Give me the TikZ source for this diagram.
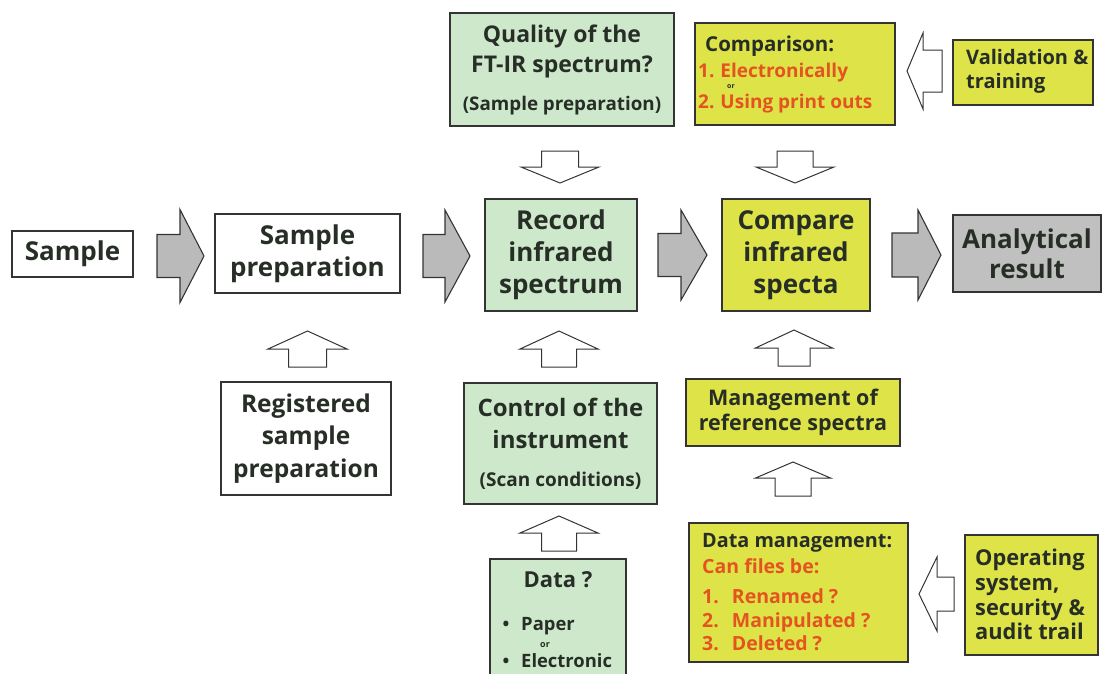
\documentclass[tikz,border=0pt]{standalone}
\usepackage{fontspec}
\setmainfont{Open Sans}
\definecolor{greenf}{RGB}{206,232,204}
\definecolor{yellowf}{RGB}{222,227,72}
\definecolor{grayf}{RGB}{192,192,192}
\definecolor{arrowgray}{RGB}{186,186,186}
\definecolor{linec}{RGB}{52,52,52}
\definecolor{txtc}{RGB}{38,46,38}
\definecolor{redc}{RGB}{228,84,32}
\newcommand\fs[2]{\fontsize{#1}{#2}\selectfont}
% right/left-pointing block arrow: style, x-tail, x-headbase, x-tip, y-centre, shaft half, head half
\newcommand\blockR[7]{\draw[#1] (#2,#5-#6) -- (#3,#5-#6) -- (#3,#5-#7) -- (#4,#5) -- (#3,#5+#7) -- (#3,#5+#6) -- (#2,#5+#6) -- cycle;}
% up/down: style, x-centre, y-tail, y-headbase, y-tip, shaft half, head half
\newcommand\blockV[7]{\draw[#1] (#2-#6,#3) -- (#2-#6,#4) -- (#2-#7,#4) -- (#2,#5) -- (#2+#7,#4) -- (#2+#6,#4) -- (#2+#6,#3) -- cycle;}
\tikzset{
  box/.style={draw=linec, line width=1.3pt, inner sep=0pt, align=center, text=txtc},
  wbox/.style={box, fill=white},
  gbox/.style={box, fill=greenf},
  ybox/.style={box, fill=yellowf},
  grbox/.style={box, fill=grayf},
  garrow/.style={draw=linec, line width=1.1pt, fill=arrowgray, line join=miter},
  harrow/.style={draw=linec, line width=1pt, fill=white, line join=miter},
  txt/.style={text=txtc, inner sep=0pt},
  rtxt/.style={text=redc, inner sep=0pt},
}
\begin{document}
\begin{tikzpicture}[x=1pt, y=-1pt]
\useasboundingbox (0,0) rectangle (1103,673);
\clip (0,0) rectangle (1103,673);
% main row
\node[wbox, minimum width=121pt, minimum height=46pt, font=\bfseries\fs{26}{32}] (sample) at (72.5,254) {Sample};
\node[wbox, minimum width=185pt, minimum height=79pt, font=\bfseries\fs{26}{32}] (prep) at (307.5,253.5) {Sample\\preparation};
\node[gbox, minimum width=152pt, minimum height=112pt, font=\bfseries\fs{26}{32}] (rec) at (561,255) {Record\\infrared\\spectrum};
\node[ybox, minimum width=148pt, minimum height=112pt, font=\bfseries\fs{26}{32}] (cmp) at (796,255) {Compare\\infrared\\specta};
\node[grbox, minimum width=148pt, minimum height=77pt, font=\bfseries\fs{26}{30}] (res) at (1027,253.5) {Analytical\\result};
% top row
\node[gbox, minimum width=224pt, minimum height=113pt] (qual) at (562,69.5) {};
\node[txt, anchor=base, font=\bfseries\fs{23}{28}] (q1) at (562,42) {Quality of the};
\node[txt, anchor=base, font=\bfseries\fs{23}{28}] (q2) at (562,72) {FT-IR spectrum?};
\node[txt, anchor=base, font=\bfseries\fs{18.8}{24}] (q3) at (562,110) {(Sample preparation)};
\node[ybox, minimum width=200pt, minimum height=102pt] (comp) at (795,74) {};
\node[txt, anchor=base west, font=\bfseries\fs{20.5}{24}] (c1) at (705,51) {Comparison:};
\node[rtxt, anchor=base west, font=\bfseries\fs{19}{24}] (c2) at (698,77) {1.\hspace{6pt}Electronically};
\node[txt, anchor=base west, font=\bfseries\fs{7}{8}] (c3) at (727,88) {or};
\node[rtxt, anchor=base west, font=\bfseries\fs{19}{24}] (c4) at (698,108) {2.\hspace{6pt}Using print outs};
\node[ybox, minimum width=140pt, minimum height=65pt] (val) at (1023,72.5) {};
\node[txt, anchor=base west, font=\bfseries\fs{20}{25}] (v1) at (966,64) {Validation \&};
\node[txt, anchor=base west, font=\bfseries\fs{20}{25}] (v2) at (966,88) {training};
% bottom
\node[wbox, minimum width=170pt, minimum height=113pt, font=\bfseries\fs{24.5}{32.5}] (reg) at (306,438.5) {Registered\\sample\\preparation};
\node[gbox, minimum width=193pt, minimum height=121pt] (ctrl) at (560.5,443.5) {};
\node[txt, anchor=base, font=\bfseries\fs{24}{30}] (k1) at (560.5,416) {Control of the};
\node[txt, anchor=base, font=\bfseries\fs{24}{30}] (k2) at (560.5,448) {instrument};
\node[txt, anchor=base, font=\bfseries\fs{19}{24}] (k3) at (560.5,486) {(Scan conditions)};
\node[gbox, minimum width=136pt, minimum height=141pt] (data) at (558,629.5) {};
\node[txt, anchor=base, font=\bfseries\fs{22}{26}] (d1) at (558,587) {Data ?};
\node[txt, anchor=base, font=\bfseries\fs{18}{24}] (d2) at (506,630) {•};
\node[txt, anchor=base west, font=\bfseries\fs{18.4}{24}] (d3) at (521,630) {Paper};
\node[txt, anchor=base west, font=\bfseries\fs{9}{10}] (d4) at (540,647) {or};
\node[txt, anchor=base, font=\bfseries\fs{18}{24}] (d5) at (506,667) {•};
\node[txt, anchor=base west, font=\bfseries\fs{18.4}{24}] (d6) at (521,667) {Electronic};
\node[ybox, minimum width=214pt, minimum height=67pt, font=\bfseries\fs{21.5}{25}] (mgmt) at (793,412.5) {Management of\\reference spectra};
\node[ybox, minimum width=219pt, minimum height=139pt] (dm) at (798.5,592.5) {};
\node[txt, anchor=base west, font=\bfseries\fs{19.8}{24}] (m1) at (702,547) {Data management:};
\node[rtxt, anchor=base west, font=\bfseries\fs{19.5}{24}] (m2) at (702,573) {Can files be:};
\node[rtxt, anchor=base west, font=\bfseries\fs{19.5}{24}] (m3) at (702,603) {1.\hspace{13pt}Renamed ?};
\node[rtxt, anchor=base west, font=\bfseries\fs{19.5}{24}] (m4) at (702,627) {2.\hspace{13pt}Manipulated ?};
\node[rtxt, anchor=base west, font=\bfseries\fs{19.5}{24}] (m5) at (702,650) {3.\hspace{13pt}Deleted ?};
\node[ybox, minimum width=133pt, minimum height=120pt] (op) at (1031.5,595) {};
\node[txt, anchor=base west, font=\bfseries\fs{21.8}{26}] (o1) at (975,565) {Operating};
\node[txt, anchor=base west, font=\bfseries\fs{21.8}{26}] (o2) at (975,590) {system,};
\node[txt, anchor=base west, font=\bfseries\fs{21.8}{26}] (o3) at (975,615) {security \&};
\node[txt, anchor=base west, font=\bfseries\fs{21.8}{26}] (o4) at (975,639) {audit trail};
% grey flow arrows
\blockR{garrow}{157}{180}{204}{256}{21.5}{46.5}
\blockR{garrow}{423}{445}{470}{256}{21.5}{46}
\blockR{garrow}{658}{681}{707}{255}{21.5}{45}
\blockR{garrow}{892}{918}{941}{255}{22}{45}
% hollow arrows
\blockV{harrow}{560}{151}{167}{183}{18.5}{39}
\blockV{harrow}{795}{151}{167}{183}{18}{39}
\blockR{harrow}{942}{923}{907}{71}{21}{38}
\blockV{harrow}{307.5}{367}{349}{331}{19}{39.5}
\blockV{harrow}{559}{367}{349}{331}{17.5}{39}
\blockV{harrow}{559}{551}{533}{516}{17.5}{39}
\blockV{harrow}{794}{366}{348}{330}{16}{38.5}
\blockV{harrow}{793}{496}{478}{462}{18}{37.5}
\blockR{harrow}{954}{937}{919}{594}{17}{37}
\end{tikzpicture}
\end{document}
